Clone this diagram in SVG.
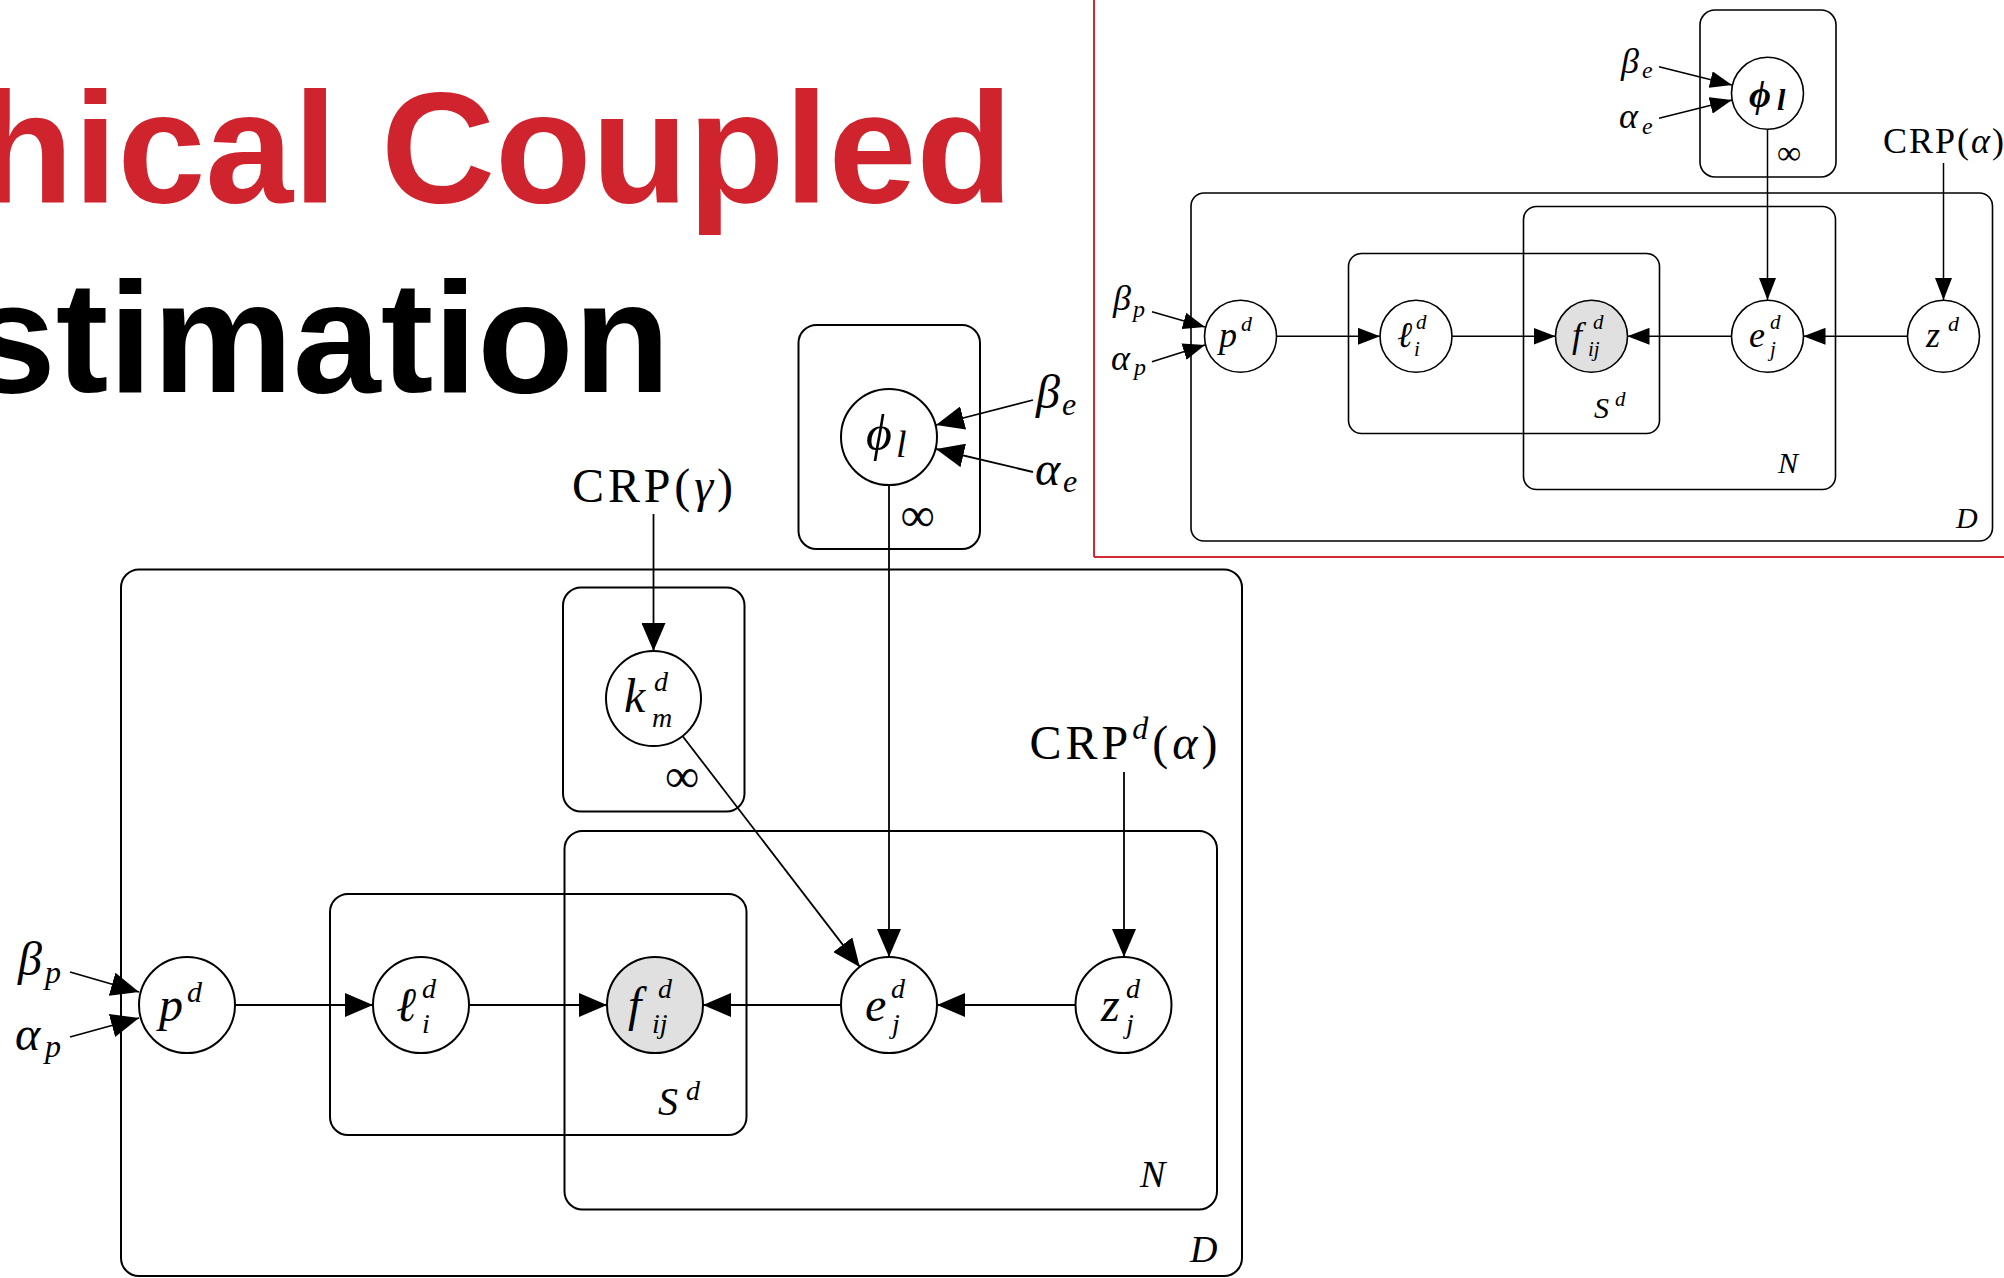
<svg xmlns="http://www.w3.org/2000/svg" width="2004" height="1278" viewBox="0 0 2004 1278">
<style>
.plate{fill:none;stroke:#000;stroke-width:2}
.plate-s{fill:none;stroke:#000;stroke-width:1.6}
.node{fill:#fff;stroke:#000;stroke-width:2}
.node-s{fill:#fff;stroke:#000;stroke-width:1.6}
.obs{fill:#e0e0e0}
.m{font-family:"Liberation Serif","DejaVu Serif",serif;font-style:italic;fill:#000}
.up{font-style:normal}
.edge{stroke:#000;stroke-width:1.8;fill:none;marker-end:url(#ah)}
.edge-s{stroke:#000;stroke-width:1.5;fill:none;marker-end:url(#ahs)}
.title{font-family:"Liberation Sans",Arial,sans-serif;font-weight:bold;font-size:158px}
</style>
<defs>
<marker id="ah" viewBox="0 0 28 24" refX="28" refY="12" markerWidth="28" markerHeight="24" markerUnits="userSpaceOnUse" orient="auto"><path d="M0,0 L28,12 L0,24 z" fill="#000"/></marker>
<marker id="ahs" viewBox="0 0 22 17" refX="22" refY="8.5" markerWidth="22" markerHeight="17" markerUnits="userSpaceOnUse" orient="auto"><path d="M0,0 L22,8.5 L0,17 z" fill="#000"/></marker>
</defs>
<rect width="2004" height="1278" fill="#fff"/>

<!-- Title -->
<g id="title">
<text class="title" x="-23" y="202" fill="#cf232e">hical Coupled</text>
<text class="title" x="-32" y="392" fill="#000">stimation</text>
</g>

<!-- Red frame of inset -->
<g id="inset-frame" stroke="#d52a33" stroke-width="2" fill="none">
<line x1="1094" y1="0" x2="1094" y2="557"/>
<line x1="1094" y1="557" x2="2004" y2="557"/>
</g>

<!-- ===== Main diagram plates ===== -->
<g id="plates-main">
<g id="plate-D"><rect class="plate" x="121" y="569.5" width="1121" height="706.5" rx="18"/><text class="m" x="1190" y="1262" font-size="38">D</text></g>
<g id="plate-phi"><rect class="plate" x="798.5" y="325" width="181.5" height="224" rx="18"/><text class="m up" x="917.5" y="531" font-size="48" text-anchor="middle">∞</text></g>
<g id="plate-k"><rect class="plate" x="563" y="587.5" width="181.5" height="224" rx="18"/><text class="m up" x="682" y="792" font-size="48" text-anchor="middle">∞</text></g>
<g id="plate-N"><rect class="plate" x="564.5" y="831" width="652.5" height="378.5" rx="18"/><text class="m" x="1140" y="1187" font-size="38">N</text></g>
<g id="plate-S"><rect class="plate" x="330" y="894" width="416.5" height="241" rx="18"/><text class="m" x="658" y="1115" font-size="40">S</text><text class="m" x="686" y="1100" font-size="28">d</text></g>
</g>

<!-- ===== Main connectors ===== -->
<g id="connectors-main">
<line class="edge" x1="653.5" y1="514" x2="653.5" y2="651"/>
<line class="edge" x1="682.3" y1="735.7" x2="859.8" y2="966.9"/>
<line class="edge" x1="889" y1="485" x2="889" y2="957"/>
<line class="edge" x1="1124" y1="772" x2="1124" y2="957"/>
<line class="edge" x1="235" y1="1005" x2="373" y2="1005"/>
<line class="edge" x1="469" y1="1005" x2="607" y2="1005"/>
<line class="edge" x1="841" y1="1005" x2="703" y2="1005"/>
<line class="edge" x1="1076" y1="1005" x2="937" y2="1005"/>
<line class="edge" x1="1033" y1="400" x2="936" y2="425"/>
<line class="edge" x1="1033" y1="472" x2="936" y2="449"/>
<line class="edge" x1="70" y1="972" x2="139" y2="992"/>
<line class="edge" x1="70" y1="1037" x2="139" y2="1018"/>
</g>

<!-- ===== Main nodes ===== -->
<g id="node-phi">
<circle class="node" cx="889" cy="437" r="48"/>
<text class="m" x="866" y="450" font-size="50">ϕ</text><text class="m" x="896" y="457" font-size="38">l</text>
</g>
<g id="node-k">
<circle class="node" cx="653.5" cy="698.5" r="47.5"/>
<text class="m" x="624" y="712" font-size="48">k</text><text class="m" x="654" y="691" font-size="28">d</text><text class="m" x="652" y="727" font-size="28">m</text>
</g>
<g id="node-p">
<circle class="node" cx="187" cy="1005" r="48"/>
<text class="m" x="159" y="1021" font-size="48">p</text><text class="m" x="187" y="1002" font-size="30">d</text>
</g>
<g id="node-l">
<circle class="node" cx="421" cy="1005" r="48"/>
<text class="m" x="396" y="1021" font-size="48">ℓ</text><text class="m" x="422" y="998" font-size="28">d</text><text class="m" x="422" y="1033" font-size="28">i</text>
</g>
<g id="node-f">
<circle class="node obs" cx="655" cy="1005" r="48"/>
<text class="m" x="628" y="1021" font-size="48">f</text><text class="m" x="658" y="998" font-size="28">d</text><text class="m" x="652" y="1033" font-size="28">ij</text>
</g>
<g id="node-e">
<circle class="node" cx="889" cy="1005" r="48"/>
<text class="m" x="865" y="1021" font-size="48">e</text><text class="m" x="891" y="998" font-size="28">d</text><text class="m" x="892" y="1033" font-size="28">j</text>
</g>
<g id="node-z">
<circle class="node" cx="1123.5" cy="1005" r="48"/>
<text class="m" x="1101" y="1021" font-size="48">z</text><text class="m" x="1126" y="998" font-size="28">d</text><text class="m" x="1126" y="1033" font-size="28">j</text>
</g>

<!-- Main hyperparameters -->
<g id="label-crp-gamma"><text class="m up" x="652.5" y="502" font-size="48" text-anchor="middle" textLength="161" lengthAdjust="spacing">CRP(<tspan font-style="italic">γ</tspan>)</text></g>
<g id="label-crpd-alpha"><text class="m up" x="1123.5" y="759" font-size="48" text-anchor="middle" textLength="188" lengthAdjust="spacing">CRP<tspan font-style="italic" font-size="32" dy="-20">d</tspan><tspan dy="20">(</tspan><tspan font-style="italic">α</tspan>)</text></g>
<g id="label-beta-e"><text class="m" x="1036" y="408" font-size="48">β</text><text class="m" x="1062" y="415" font-size="32">e</text></g>
<g id="label-alpha-e"><text class="m" x="1035" y="485" font-size="48">α</text><text class="m" x="1063" y="492" font-size="32">e</text></g>
<g id="label-beta-p"><text class="m" x="18" y="975" font-size="48">β</text><text class="m" x="45" y="983" font-size="32">p</text></g>
<g id="label-alpha-p"><text class="m" x="15" y="1050" font-size="48">α</text><text class="m" x="45" y="1057" font-size="32">p</text></g>

<!-- ===== Inset diagram ===== -->
<g id="plates-inset">
<g id="inset-plate-phi"><rect class="plate-s" x="1700" y="10" width="136" height="167" rx="15"/><text class="m up" x="1789" y="164" font-size="34" text-anchor="middle">∞</text></g>
<g id="inset-plate-D"><rect class="plate-s" x="1191" y="193" width="801.5" height="348" rx="13"/><text class="m" x="1956" y="528" font-size="30">D</text></g>
<g id="inset-plate-N"><rect class="plate-s" x="1523.5" y="206.5" width="312" height="283" rx="13"/><text class="m" x="1778" y="473" font-size="30">N</text></g>
<g id="inset-plate-S"><rect class="plate-s" x="1348.5" y="253.5" width="311" height="180" rx="13"/><text class="m" x="1594" y="418" font-size="30">S</text><text class="m" x="1615" y="406" font-size="21">d</text></g>
</g>

<g id="connectors-inset">
<line class="edge-s" x1="1943.5" y1="163" x2="1943.5" y2="300"/>
<line class="edge-s" x1="1767.5" y1="129" x2="1767.5" y2="300"/>
<line class="edge-s" x1="1276.5" y1="336.3" x2="1380" y2="336.3"/>
<line class="edge-s" x1="1452" y1="336.3" x2="1555.5" y2="336.3"/>
<line class="edge-s" x1="1731.3" y1="336.3" x2="1627.5" y2="336.3"/>
<line class="edge-s" x1="1907.3" y1="336.3" x2="1803.5" y2="336.3"/>
<line class="edge-s" x1="1659" y1="66.7" x2="1732" y2="85"/>
<line class="edge-s" x1="1659" y1="118.3" x2="1732" y2="100"/>
<line class="edge-s" x1="1152" y1="311.7" x2="1205" y2="327"/>
<line class="edge-s" x1="1152" y1="361.7" x2="1205" y2="345"/>
</g>

<g id="inset-node-phi">
<circle class="node-s" cx="1767.5" cy="93.3" r="36"/>
<text class="m" x="1749" y="107" font-size="38" font-weight="bold">ϕ</text><text class="m" x="1777" y="110" font-size="30" font-weight="bold">l</text>
</g>
<g id="inset-node-p">
<circle class="node-s" cx="1240.5" cy="336.3" r="36"/>
<text class="m" x="1219" y="347" font-size="36">p</text><text class="m" x="1241" y="331" font-size="22">d</text>
</g>
<g id="inset-node-l">
<circle class="node-s" cx="1416" cy="336.3" r="36"/>
<text class="m" x="1397" y="347" font-size="36">ℓ</text><text class="m" x="1416" y="329" font-size="21">d</text><text class="m" x="1414" y="356" font-size="21">i</text>
</g>
<g id="inset-node-f">
<circle class="node-s obs" cx="1591.5" cy="336.3" r="36"/>
<text class="m" x="1572" y="347" font-size="36">f</text><text class="m" x="1593" y="329" font-size="21">d</text><text class="m" x="1588" y="356" font-size="21">ij</text>
</g>
<g id="inset-node-e">
<circle class="node-s" cx="1767.5" cy="336.3" r="36"/>
<text class="m" x="1749" y="347" font-size="36">e</text><text class="m" x="1770" y="329" font-size="21">d</text><text class="m" x="1770" y="356" font-size="21">j</text>
</g>
<g id="inset-node-z">
<circle class="node-s" cx="1943.5" cy="336.3" r="36"/>
<text class="m" x="1926" y="347" font-size="36">z</text><text class="m" x="1948" y="331" font-size="22">d</text>
</g>

<g id="inset-label-crp-alpha"><text class="m up" x="1883" y="153" font-size="36" textLength="121" lengthAdjust="spacing">CRP(<tspan font-style="italic">α</tspan>)</text></g>
<g id="inset-label-beta-e"><text class="m" x="1621" y="73" font-size="36">β</text><text class="m" x="1642" y="78" font-size="24">e</text></g>
<g id="inset-label-alpha-e"><text class="m" x="1619" y="128" font-size="36">α</text><text class="m" x="1642" y="134" font-size="24">e</text></g>
<g id="inset-label-beta-p"><text class="m" x="1113" y="310" font-size="36">β</text><text class="m" x="1133" y="317" font-size="24">p</text></g>
<g id="inset-label-alpha-p"><text class="m" x="1111" y="370" font-size="36">α</text><text class="m" x="1134" y="375" font-size="24">p</text></g>
</svg>
